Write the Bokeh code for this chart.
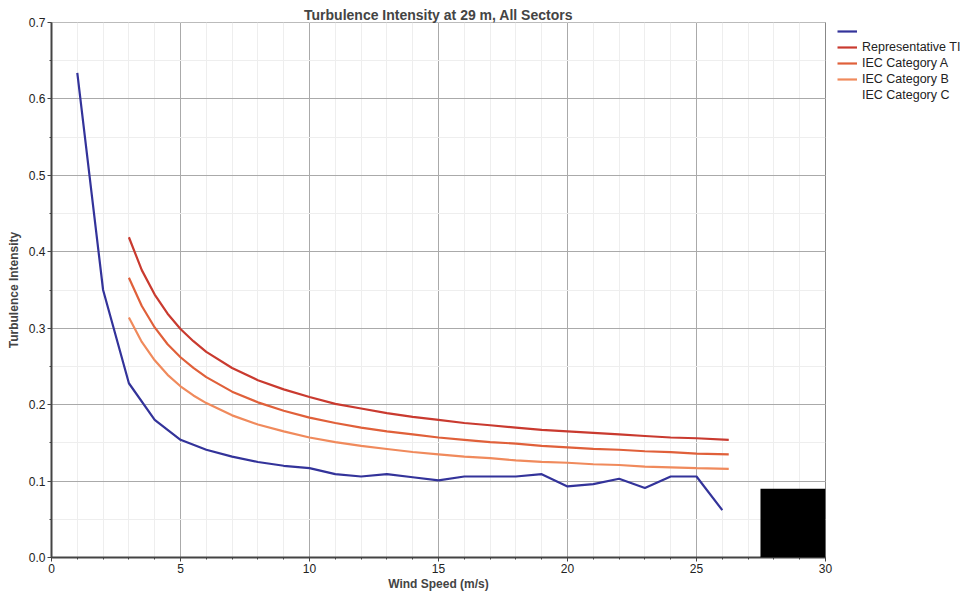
from bokeh.plotting import figure
from bokeh.models import (Range1d, FixedTicker, PrintfTickFormatter, Legend, LegendItem,
                          BoxAnnotation)
from bokeh.embed import file_html
from bokeh.resources import INLINE

# ---- data ----
ws_measured = [1, 2, 3, 4, 5, 6, 7, 8, 9, 10, 11, 12, 13, 14, 15, 16, 17, 18, 19,
               20, 21, 22, 23, 24, 25, 26]
ti_representative = [0.634, 0.350, 0.228, 0.180, 0.154, 0.141, 0.132, 0.125, 0.120,
                     0.117, 0.109, 0.106, 0.109, 0.105, 0.101, 0.106, 0.106, 0.106,
                     0.109, 0.093, 0.096, 0.103, 0.091, 0.106, 0.106, 0.062]

ws_iec = [3, 3.5, 4, 4.5, 5, 5.5, 6, 7, 8, 9, 10, 11, 12, 13, 14, 15, 16, 17, 18,
          19, 20, 21, 22, 23, 24, 25, 26.25]
ti_iec_a = [0.419, 0.376, 0.344, 0.319, 0.299, 0.283, 0.269, 0.248, 0.232, 0.220,
            0.210, 0.201, 0.195, 0.189, 0.184, 0.180, 0.176, 0.173, 0.170, 0.167,
            0.165, 0.163, 0.161, 0.159, 0.157, 0.156, 0.154]
ti_iec_b = [0.366, 0.329, 0.301, 0.279, 0.262, 0.248, 0.236, 0.217, 0.203, 0.192,
            0.183, 0.176, 0.170, 0.165, 0.161, 0.157, 0.154, 0.151, 0.149, 0.146,
            0.144, 0.142, 0.141, 0.139, 0.138, 0.136, 0.135]
ti_iec_c = [0.314, 0.282, 0.258, 0.239, 0.224, 0.212, 0.202, 0.186, 0.174, 0.165,
            0.157, 0.151, 0.146, 0.142, 0.138, 0.135, 0.132, 0.130, 0.127, 0.125,
            0.124, 0.122, 0.121, 0.119, 0.118, 0.117, 0.116]

legend_labels = [" ", "Representative TI", "IEC Category A", "IEC Category B", "IEC Category C"]
x_ticks = [0, 5, 10, 15, 20, 25, 30]
y_ticks = [0.0, 0.1, 0.2, 0.3, 0.4, 0.5, 0.6, 0.7]

FONT = "Liberation Sans"

p = figure(frame_width=774, frame_height=535, output_backend="svg", toolbar_location=None,
           x_range=Range1d(0, 30), y_range=Range1d(0, 0.7),
           min_border_left=51, min_border_right=138, min_border_top=22, min_border_bottom=34)

p.title.text = "Turbulence Intensity at 29 m, All Sectors"
p.title.align = "center"
p.title.text_font = FONT
p.title.text_font_size = "14px"
p.title.text_font_style = "bold"
p.title.standoff = 0

p.xaxis.ticker = FixedTicker(ticks=x_ticks, minor_ticks=list(range(0, 31)))
p.yaxis.ticker = FixedTicker(ticks=y_ticks, minor_ticks=[i * 0.05 for i in range(15)])
p.yaxis.formatter = PrintfTickFormatter(format="%.1f")
p.xaxis.axis_label = "Wind Speed (m/s)"
p.yaxis.axis_label = "Turbulence Intensity"
for ax in (p.xaxis[0], p.yaxis[0]):
    ax.axis_label_text_font = FONT
    ax.axis_label_text_font_size = "12px"
    ax.axis_label_text_font_style = "bold"
    ax.major_label_text_font = FONT
    ax.major_label_text_font_size = "12px"
    ax.major_label_text_color = "#222222"
    ax.axis_line_color = "#444444"
    ax.axis_line_width = 2
    ax.major_tick_line_color = "#444444"
    ax.minor_tick_line_color = "#444444"
    ax.major_tick_in = 0
    ax.major_tick_out = 4
    ax.minor_tick_in = 0
    ax.minor_tick_out = 2
p.xaxis.axis_label_standoff = 1
p.yaxis.axis_label_standoff = 5
p.xaxis.major_label_standoff = 2
p.yaxis.major_label_standoff = 2

for g in (p.xgrid[0], p.ygrid[0]):
    g.grid_line_color = "#aaaaaa"
    g.grid_line_width = 1
    g.minor_grid_line_color = "#eeeeee"
    g.minor_grid_line_width = 1

p.outline_line_color = "#888888"
p.outline_line_width = 1

r_rep = p.line(ws_measured, ti_representative, line_color="#33339a", line_width=2.2)
r_a = p.line(ws_iec, ti_iec_a, line_color="#c93a2f", line_width=2.2)
r_b = p.line(ws_iec, ti_iec_b, line_color="#e0603a", line_width=2.2)
r_c = p.line(ws_iec, ti_iec_c, line_color="#f08a5c", line_width=2.2)
r_none = p.line(x=[], y=[], line_alpha=0)

p.add_layout(BoxAnnotation(left=27.48, right=30, bottom=0, top=0.09,
                           fill_color="black", fill_alpha=1, line_alpha=0))

legend = Legend(items=[LegendItem(label=legend_labels[0], renderers=[r_rep]),
                       LegendItem(label=legend_labels[1], renderers=[r_a]),
                       LegendItem(label=legend_labels[2], renderers=[r_b]),
                       LegendItem(label=legend_labels[3], renderers=[r_c]),
                       LegendItem(label=legend_labels[4], renderers=[r_none])],
                location=(10, 453), border_line_alpha=0, background_fill_alpha=0,
                padding=2, margin=0, spacing=2, glyph_width=20, glyph_height=14,
                label_height=14, label_standoff=5, label_width=100, label_text_font=FONT,
                label_text_font_size="12.5px", label_text_color="#222222")
p.add_layout(legend, "right")

open("out.html", "w").write(file_html(p, INLINE))
